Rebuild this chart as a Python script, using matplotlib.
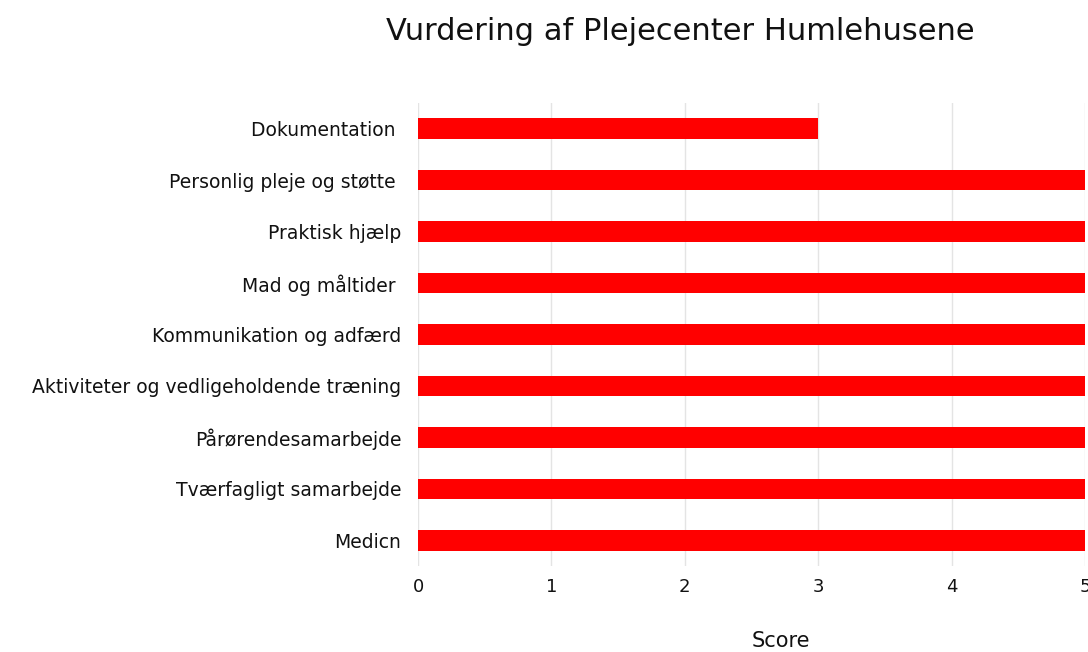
import matplotlib
matplotlib.use("Agg")
import matplotlib.pyplot as plt

categories = [
    "Dokumentation ",
    "Personlig pleje og støtte ",
    "Praktisk hjælp",
    "Mad og måltider ",
    "Kommunikation og adfærd",
    "Aktiviteter og vedligeholdende træning",
    "Pårørendesamarbejde",
    "Tværfagligt samarbejde",
    "Medicn",
]
scores = [3, 5, 5, 5, 5, 5, 5, 5, 5]
xticks = [0, 1, 2, 3, 4, 5]

plt.rcParams['font.family'] = ['DejaVu Sans']

fig = plt.figure(figsize=(10.88, 6.52), dpi=100)
ax = fig.add_axes([418 / 1088, 1 - 566 / 652, (1085 - 418) / 1088, (566 - 103) / 652])

ypos = list(range(len(categories)))
ax.barh(ypos, scores, height=0.4, color='#ff0000')
ax.set_ylim(len(categories) - 0.5, -0.5)
ax.set_xlim(0, 5)
ax.set_yticks(ypos)
ax.set_yticklabels(categories, fontsize=13.5, color='#111111')
ax.set_xticks(xticks)
ax.set_xticklabels([str(t) for t in xticks], fontsize=13, color='#111111')
ax.tick_params(axis='both', length=0)
ax.tick_params(axis='y', pad=12)
ax.tick_params(axis='x', pad=9)
ax.grid(axis='x', color='#e4e4e4', linewidth=1)
ax.set_axisbelow(True)
for s in ax.spines.values():
    s.set_visible(False)

fig.text(781 / 1088, 1 - 641 / 652, 'Score', ha='center', va='center',
         fontsize=15, color='#111111')
fig.text(680 / 1088, 1 - 32 / 652, 'Vurdering af Plejecenter Humlehusene',
         ha='center', va='center', fontsize=22, color='#111111')

fig.savefig('out.png', dpi=100)
